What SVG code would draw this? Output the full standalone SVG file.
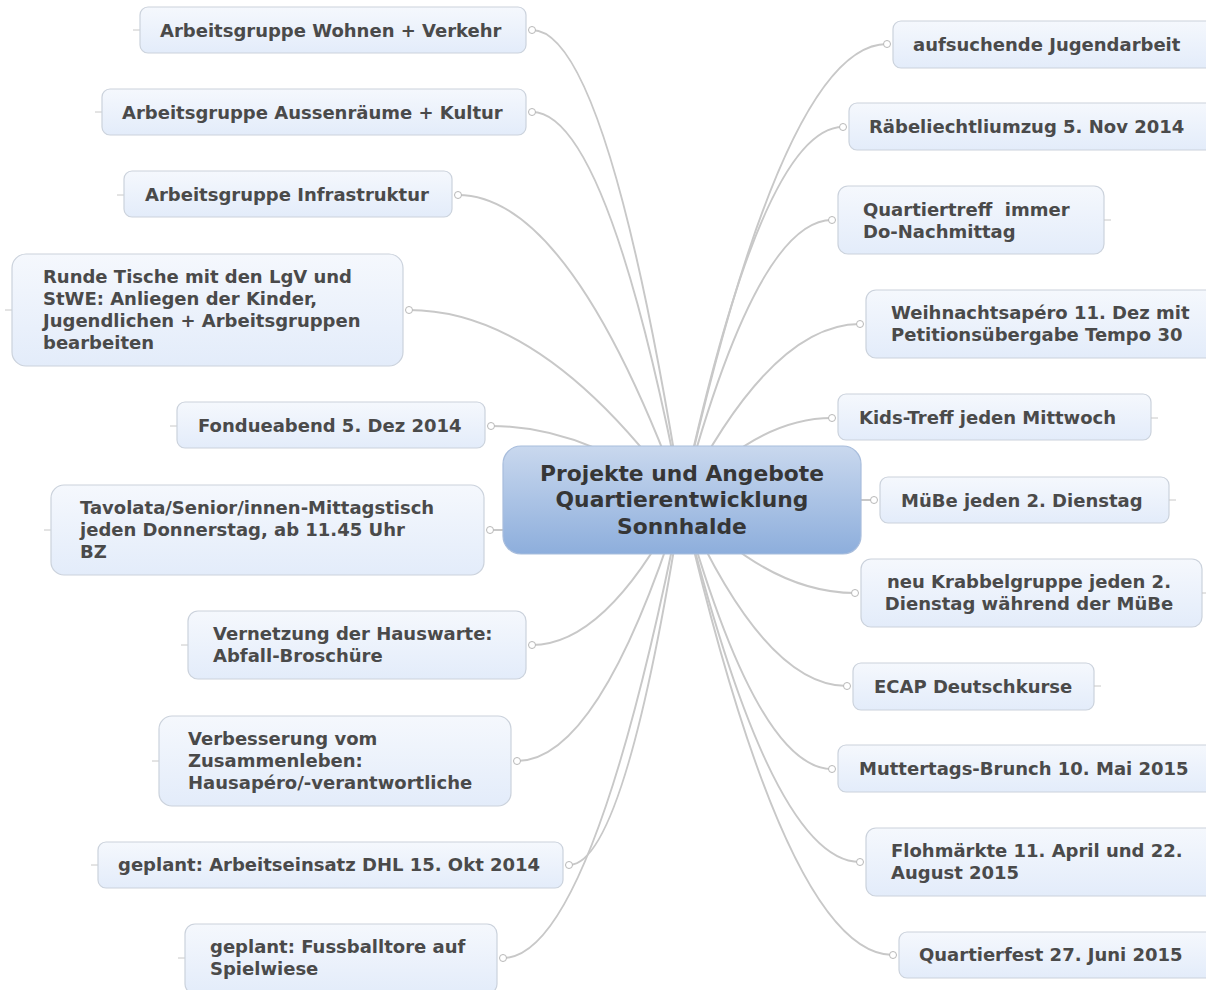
<svg xmlns="http://www.w3.org/2000/svg" width="1206" height="990" viewBox="0 0 1206 990">
<defs>
<linearGradient id="gNode" x1="0" y1="0" x2="0" y2="1">
<stop offset="0" stop-color="#f5f8fd"/>
<stop offset="1" stop-color="#e3ecfa"/>
</linearGradient>
<linearGradient id="gCenter" x1="0" y1="0" x2="0" y2="1">
<stop offset="0" stop-color="#c9d8ee"/>
<stop offset="1" stop-color="#8daedc"/>
</linearGradient>
<style>
.box{fill:url(#gNode);stroke:#cbd2dc;stroke-width:1.2}
.t{font-family:"DejaVu Sans",Verdana,sans-serif;font-weight:bold;font-size:18px;fill:#4a4a4a;white-space:pre}
.tc{font-family:"DejaVu Sans",Verdana,sans-serif;font-weight:bold;font-size:21.8px;fill:#363636;text-anchor:middle}
.ln{fill:none;stroke:#c8c8c8;stroke-width:2}
.stub{stroke:#c8c8c8;stroke-width:1}
.dot{fill:#fff;stroke:#b8b8b8;stroke-width:1}
</style>
</defs>
<rect width="1206" height="990" fill="#fff"/>
<g id="connectors">
<path class="ln" d="M682,500 Q607,30 532,30"/>
<path class="ln" d="M682,500 Q607,112 532,112"/>
<path class="ln" d="M682,500 Q570,195 458,195"/>
<path class="ln" d="M682,500 Q545,310 409,310"/>
<path class="ln" d="M682,500 Q586,426 491,426"/>
<path class="ln" d="M682,500 Q586,530 490,530"/>
<path class="ln" d="M682,500 Q607,645 532,645"/>
<path class="ln" d="M682,500 Q600,761 517,761"/>
<path class="ln" d="M682,500 Q625,865 569,865"/>
<path class="ln" d="M682,500 Q592,958 503,958"/>
<path class="ln" d="M682,500 Q784,44 887,44"/>
<path class="ln" d="M682,500 Q762,127 843,127"/>
<path class="ln" d="M682,500 Q757,220 832,220"/>
<path class="ln" d="M682,500 Q771,324 860,324"/>
<path class="ln" d="M682,500 Q757,418 832,418"/>
<path class="ln" d="M682,500 Q778,500 874,500"/>
<path class="ln" d="M682,500 Q768,593 855,593"/>
<path class="ln" d="M682,500 Q764,686 847,686"/>
<path class="ln" d="M682,500 Q757,769 832,769"/>
<path class="ln" d="M682,500 Q771,862 860,862"/>
<path class="ln" d="M682,500 Q787,955 893,955"/>
</g>
<g id="center">
<rect x="503" y="446" width="358" height="108" rx="18" fill="url(#gCenter)" stroke="#a8bddc" stroke-width="1.2"/>
<text class="tc" x="682" y="481">Projekte und Angebote</text>
<text class="tc" x="682" y="507">Quartierentwicklung</text>
<text class="tc" x="682" y="534">Sonnhalde</text>
</g>
<g id="n-l1"><line class="stub" x1="133" y1="30" x2="140" y2="30"/><rect class="box" x="140" y="7" width="386" height="46" rx="8"/><text class="t" x="160" y="37">Arbeitsgruppe Wohnen + Verkehr</text><circle class="dot" cx="532" cy="30" r="3.5"/></g>
<g id="n-l2"><line class="stub" x1="95" y1="112" x2="102" y2="112"/><rect class="box" x="102" y="89" width="424" height="46" rx="8"/><text class="t" x="122" y="119">Arbeitsgruppe Aussenräume + Kultur</text><circle class="dot" cx="532" cy="112" r="3.5"/></g>
<g id="n-l3"><line class="stub" x1="117" y1="195" x2="124" y2="195"/><rect class="box" x="124" y="171" width="328" height="46" rx="8"/><text class="t" x="145" y="201">Arbeitsgruppe Infrastruktur</text><circle class="dot" cx="458" cy="195" r="3.5"/></g>
<g id="n-l4"><line class="stub" x1="5" y1="310" x2="12" y2="310"/><rect class="box" x="12" y="254" width="391" height="112" rx="14"/><text class="t" x="43" y="283">Runde Tische mit den LgV und</text><text class="t" x="43" y="305">StWE: Anliegen der Kinder,</text><text class="t" x="43" y="327">Jugendlichen + Arbeitsgruppen</text><text class="t" x="43" y="349">bearbeiten</text><circle class="dot" cx="409" cy="310" r="3.5"/></g>
<g id="n-l5"><line class="stub" x1="170" y1="426" x2="177" y2="426"/><rect class="box" x="177" y="402" width="308" height="46" rx="8"/><text class="t" x="198" y="432">Fondueabend 5. Dez 2014</text><circle class="dot" cx="491" cy="426" r="3.5"/></g>
<g id="n-l6"><line class="stub" x1="44" y1="530" x2="51" y2="530"/><rect class="box" x="51" y="485" width="433" height="90" rx="13"/><text class="t" x="80" y="514">Tavolata/Senior/innen-Mittagstisch</text><text class="t" x="80" y="536">jeden Donnerstag, ab 11.45 Uhr</text><text class="t" x="80" y="558">BZ</text><circle class="dot" cx="490" cy="530" r="3.5"/></g>
<g id="n-l7"><line class="stub" x1="181" y1="645" x2="188" y2="645"/><rect class="box" x="188" y="611" width="338" height="68" rx="10"/><text class="t" x="213" y="640">Vernetzung der Hauswarte:</text><text class="t" x="213" y="662">Abfall-Broschüre</text><circle class="dot" cx="532" cy="645" r="3.5"/></g>
<g id="n-l8"><line class="stub" x1="152" y1="761" x2="159" y2="761"/><rect class="box" x="159" y="716" width="352" height="90" rx="13"/><text class="t" x="188" y="745">Verbesserung vom</text><text class="t" x="188" y="767">Zusammenleben:</text><text class="t" x="188" y="789">Hausapéro/-verantwortliche</text><circle class="dot" cx="517" cy="761" r="3.5"/></g>
<g id="n-l9"><line class="stub" x1="91" y1="865" x2="98" y2="865"/><rect class="box" x="98" y="842" width="465" height="46" rx="8"/><text class="t" x="118" y="871">geplant: Arbeitseinsatz DHL 15. Okt 2014</text><circle class="dot" cx="569" cy="865" r="3.5"/></g>
<g id="n-l10"><line class="stub" x1="178" y1="958" x2="185" y2="958"/><rect class="box" x="185" y="924" width="312" height="70" rx="10"/><text class="t" x="210" y="953">geplant: Fussballtore auf</text><text class="t" x="210" y="975">Spielwiese</text><circle class="dot" cx="503" cy="958" r="3.5"/></g>
<g id="n-r1"><rect class="box" x="893" y="21" width="330" height="47" rx="8"/><text class="t" x="913" y="51">aufsuchende Jugendarbeit</text><circle class="dot" cx="887" cy="44" r="3.5"/></g>
<g id="n-r2"><rect class="box" x="849" y="103" width="370" height="47" rx="8"/><text class="t" x="869" y="133">Räbeliechtliumzug 5. Nov 2014</text><circle class="dot" cx="843" cy="127" r="3.5"/></g>
<g id="n-r3"><rect class="box" x="838" y="186" width="266" height="68" rx="10"/><text class="t" x="863" y="216">Quartiertreff  immer</text><text class="t" x="863" y="238">Do-Nachmittag</text><line class="stub" x1="1104" y1="220" x2="1111" y2="220"/><circle class="dot" cx="832" cy="220" r="3.5"/></g>
<g id="n-r4"><rect class="box" x="866" y="290" width="360" height="68" rx="10"/><text class="t" x="891" y="319">Weihnachtsapéro 11. Dez mit</text><text class="t" x="891" y="341">Petitionsübergabe Tempo 30</text><circle class="dot" cx="860" cy="324" r="3.5"/></g>
<g id="n-r5"><rect class="box" x="838" y="394" width="313" height="46" rx="8"/><text class="t" x="859" y="424">Kids-Treff jeden Mittwoch</text><line class="stub" x1="1151" y1="418" x2="1158" y2="418"/><circle class="dot" cx="832" cy="418" r="3.5"/></g>
<g id="n-r6"><rect class="box" x="880" y="477" width="289" height="46" rx="8"/><text class="t" x="901" y="507">MüBe jeden 2. Dienstag</text><line class="stub" x1="1169" y1="500" x2="1176" y2="500"/><circle class="dot" cx="874" cy="500" r="3.5"/></g>
<g id="n-r7"><rect class="box" x="861" y="559" width="341" height="68" rx="10"/><text class="t" x="1029" y="588" text-anchor="middle">neu Krabbelgruppe jeden 2.</text><text class="t" x="1029" y="610" text-anchor="middle">Dienstag während der MüBe</text><line class="stub" x1="1202" y1="593" x2="1206" y2="593"/><circle class="dot" cx="855" cy="593" r="3.5"/></g>
<g id="n-r8"><rect class="box" x="853" y="663" width="241" height="47" rx="8"/><text class="t" x="874" y="693">ECAP Deutschkurse</text><line class="stub" x1="1094" y1="686" x2="1101" y2="686"/><circle class="dot" cx="847" cy="686" r="3.5"/></g>
<g id="n-r9"><rect class="box" x="838" y="745" width="380" height="47" rx="8"/><text class="t" x="859" y="775">Muttertags-Brunch 10. Mai 2015</text><circle class="dot" cx="832" cy="769" r="3.5"/></g>
<g id="n-r10"><rect class="box" x="866" y="828" width="360" height="68" rx="10"/><text class="t" x="891" y="857">Flohmärkte 11. April und 22.</text><text class="t" x="891" y="879">August 2015</text><circle class="dot" cx="860" cy="862" r="3.5"/></g>
<g id="n-r11"><rect class="box" x="899" y="932" width="330" height="46" rx="8"/><text class="t" x="919" y="961">Quartierfest 27. Juni 2015</text><circle class="dot" cx="893" cy="955" r="3.5"/></g>
</svg>
